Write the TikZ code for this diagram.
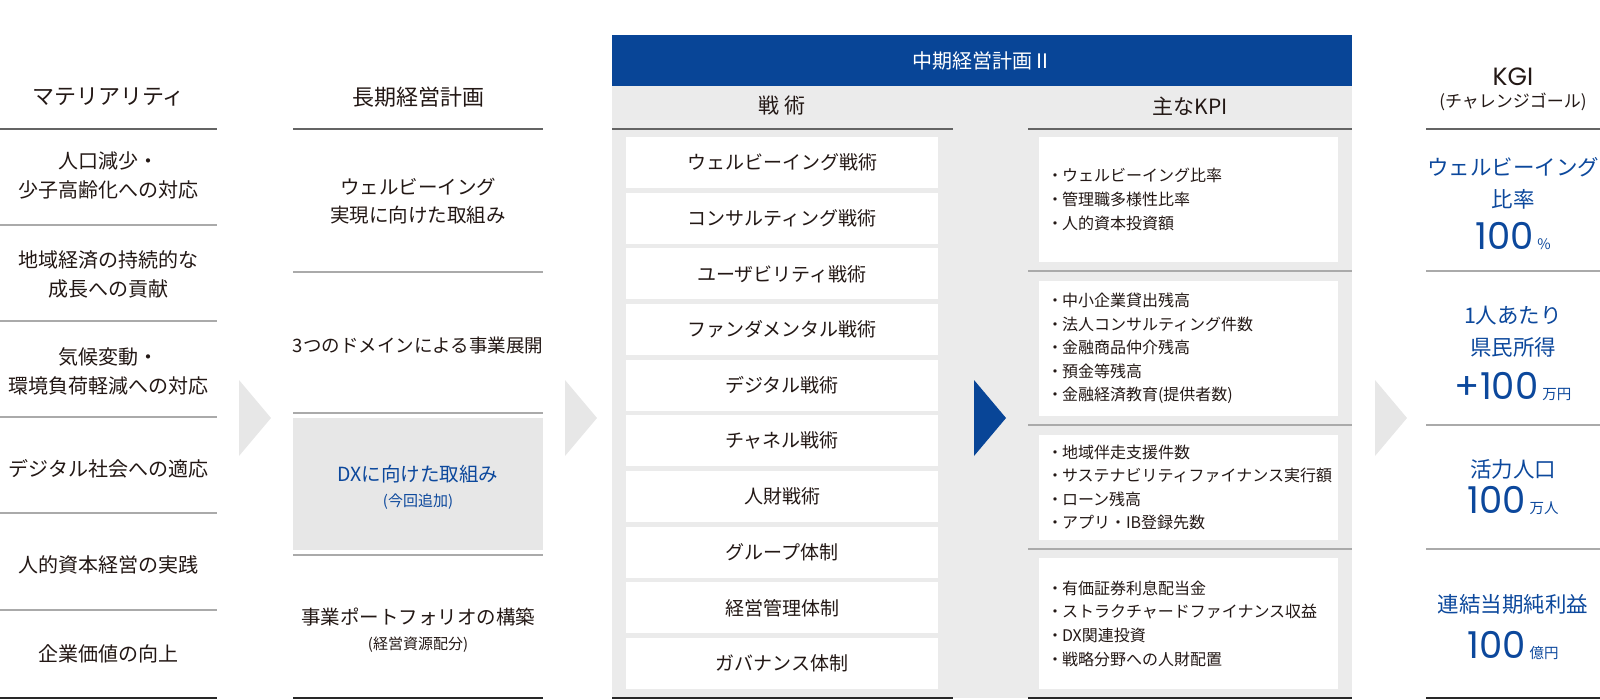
\documentclass[tikz,border=0pt]{standalone}
\usepackage{fontspec}
\setmainfont{Noto Sans CJK JP}
\newfontfamily\numfont{Poppins}
\usetikzlibrary{positioning}
\def\dotb{\kern-5pt・\kern-1pt}
\def\unitsm#1{\kern4pt{\rmfamily\fontsize{14.5}{14.5}\selectfont #1}}

\begin{document}
\begin{tikzpicture}[x=1pt,y=-1pt,
    every node/.style={inner sep=0pt,align=center,text=ink},
    head/.style={font=\fontsize{22}{26}\selectfont},
    body/.style={font=\fontsize{20}{29}\selectfont},
    plan/.style={font=\fontsize{19.5}{28}\selectfont},
    note/.style={font=\fontsize{15}{18}\selectfont},
    tact/.style={fill=white,minimum width=312,minimum height=51,font=\fontsize{19}{22}\selectfont},
    kpibox/.style={fill=white,minimum width=299},
    kpi/.style={align=left,anchor=west,font=\fontsize{16}{23.6}\selectfont},
    kgi/.style={text=kgiblue,font=\fontsize{21.5}{32}\selectfont},
    kgival/.style={text=kgiblue,anchor=base,font=\numfont\fontsize{37}{37}\selectfont},
    topline/.style={draw=linedark,line width=1.8pt},
    midline/.style={draw=linemid,line width=1.2pt},
    botline/.style={draw=lineblack,line width=1.8pt}]
    \definecolor{ink}{RGB}{35,24,21}
    \definecolor{hdblue}{RGB}{8,69,151}
    \definecolor{kgiblue}{RGB}{12,72,156}
    \definecolor{panelgray}{RGB}{235,235,235}
    \definecolor{arrowgray}{RGB}{231,231,231}
    \definecolor{linedark}{RGB}{100,100,100}
    \definecolor{linemid}{RGB}{170,170,170}
    \definecolor{lineblack}{RGB}{40,40,40}
    \useasboundingbox (0,0) rectangle (1600,700);

    \fill[hdblue] (612,35) rectangle (1352,86);
    \fill[panelgray] (612,86) rectangle (1352,698);
    \fill[arrowgray] (293,418) rectangle (543,550);
    \foreach \x/\c in {239/arrowgray,565/arrowgray,974/hdblue,1375/arrowgray}
      \fill[\c] (\x,380) -- ++(32,38) -- ++(-32,38) -- cycle;

    \foreach \xa/\xb in {0/217,293/543,612/953,1028/1352,1426/1600} {
      \draw[topline] (\xa,129) -- (\xb,129);
      \draw[botline] (\xa,698) -- (\xb,698);
    }
    \foreach \y in {225,321,417,513,610} \draw[midline] (0,\y) -- (217,\y);
    \foreach \y in {272,413,555} \draw[midline] (293,\y) -- (543,\y);
    \foreach \y in {271,425,549} \draw[midline] (1028,\y) -- (1352,\y) (1426,\y) -- (1600,\y);

    \node[head] (mat) at (108.5,97) {マテリアリティ};
    \foreach \y/\t [count=\i] in {175/{人口減少・\\少子高齢化への対応},274/{地域経済の持続的な\\成長への貢献},371/{気候変動・\\環境負荷軽減への対応},469/{デジタル社会への適応},565/{人的資本経営の実践},654/{企業価値の向上}}
      \node[body] (mat\i) at (108.5,\y) {\t};

    \node[head] (plan) at (418,97) {長期経営計画};
    \node[plan] (plan1) at (418,201) {ウェルビーイング\\実現に向けた取組み};
    \node[plan,font=\fontsize{18.5}{28}\selectfont] (plan2) at (418,345) {3つのドメインによる事業展開};
    \node[plan,text=kgiblue] (plan3) at (418,474) {DXに向けた取組み};
    \node[note,text=kgiblue] (plan3n) at (418,502) {(今回追加)};
    \node[plan] (plan4) at (418,617) {事業ポートフォリオの構築};
    \node[note] (plan4n) at (418,645) {(経営資源配分)};

    \node[text=white,font=\fontsize{20}{24}\selectfont] (mid) at (982,61) {中期経営計画Ⅱ};
    \node[head,font=\fontsize{21}{24}\selectfont] (tachead) at (782,106) {戦 術};
    \node[head,font=\fontsize{21}{24}\selectfont] (kpihead) at (1190,106) {主なKPI};
    \foreach \t [count=\i from 0] in {ウェルビーイング戦術,コンサルティング戦術,ユーザビリティ戦術,ファンダメンタル戦術,デジタル戦術,チャネル戦術,人財戦術,グループ体制,経営管理体制,ガバナンス体制}
      \node[tact] (tac\i) at (782,162.5+55.67*\i) {\t};
    \foreach \c/\h/\t [count=\i] in {199.5/125/{\dotb ウェルビーイング比率\\\dotb 管理職多様性比率\\\dotb 人的資本投資額},348.5/135/{\dotb 中小企業貸出残高\\\dotb 法人コンサルティング件数\\\dotb 金融商品仲介残高\\\dotb 預金等残高\\\dotb 金融経済教育(提供者数)},487.5/105/{\dotb 地域伴走支援件数\\\dotb サステナビリティファイナンス実行額\\\dotb ローン残高\\\dotb アプリ・IB登録先数},623.5/131/{\dotb 有価証券利息配当金\\\dotb ストラクチャードファイナンス収益\\\dotb DX関連投資\\\dotb 戦略分野への人財配置}} {
      \node[kpibox,minimum height=\h] (kpi\i) at (1188.5,\c) {};
      \node[kpi] (kpitext\i) at ([xshift=13pt]kpi\i.west) {\t};
    }

    \node[font=\numfont\fontsize{25}{28}\selectfont] (kgi) at (1513,77) {KGI};
    \node[note,font=\fontsize{17}{20}\selectfont] (kgisub) at (1513,102) {(チャレンジゴール)};
    \node[kgi] (goal1) at (1513,183.5) {ウェルビーイング\\比率};
    \node[kgival] (val1) at (1513,250) {100\unitsm{\%}};
    \node[kgi] (goal2) at (1513,331.5) {1人あたり\\県民所得};
    \node[kgival] (val2) at (1513,399) {+100\unitsm{万円}};
    \node[kgi] (goal3) at (1513,469) {活力人口};
    \node[kgival] (val3) at (1513,513) {100\unitsm{万人}};
    \node[kgi] (goal4) at (1513,604) {連結当期純利益};
    \node[kgival] (val4) at (1513,658) {100\unitsm{億円}};
\end{tikzpicture}
\end{document}
